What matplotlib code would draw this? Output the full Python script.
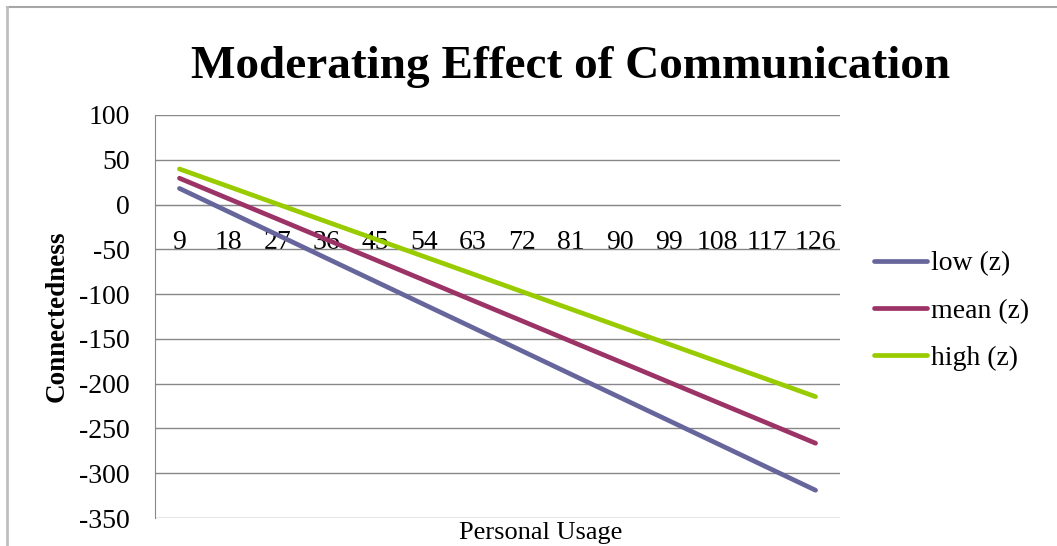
import matplotlib.pyplot as plt
from matplotlib.lines import Line2D

usage = [9, 18, 27, 36, 45, 54, 63, 72, 81, 90, 99, 108, 117, 126]
low = [18, -7.9, -33.8, -59.8, -85.7, -111.6, -137.5, -163.4, -189.4, -215.3, -241.2, -267.1, -293.1, -319]
mean = [29.4, 6.6, -16.1, -38.9, -61.6, -84.4, -107.2, -129.9, -152.7, -175.4, -198.2, -221.0, -243.7, -266.5]
high = [39.7, 20.2, 0.6, -19.0, -38.5, -58.1, -77.6, -97.2, -116.7, -136.3, -155.8, -175.4, -194.9, -214.5]
series = {"low (z)": low, "mean (z)": mean, "high (z)": high}
colors = ["#66669c", "#9c3366", "#99cc00"]
yticks = [100, 50, 0, -50, -100, -150, -200, -250, -300, -350]

serif = "Liberation Serif"
grid_c = "#888888"

fig = plt.figure(figsize=(10.57, 5.46), dpi=100)
ax = fig.add_axes([155/1057, 1-518/546, 685/1057, 403/546])

# category axis crosses at 0 (set before tick styling, it resets ticks)
for s in ["top", "right"]:
    ax.spines[s].set_visible(False)
ax.spines["left"].set_color(grid_c)
ax.spines["bottom"].set_position(("data", 0))
ax.spines["bottom"].set_color(grid_c)

x = list(range(len(usage)))
for (name, vals), c in zip(series.items(), colors):
    ax.plot(x, vals, color=c, lw=3.4, solid_capstyle="round", label=name, zorder=3)

ax.set_xlim(-0.5, len(usage) - 0.5)
ax.set_ylim(-350, 100)
ax.set_yticks(yticks)
ax.set_yticklabels([str(v) for v in yticks], fontsize=20, family=serif)
ax.set_xticks(x)
ax.set_xticklabels([str(u) for u in usage], fontsize=20, family=serif)
ax.tick_params(axis="y", length=0, pad=18)
ax.tick_params(axis="x", length=0, pad=18)
ax.yaxis.grid(True, color=grid_c, lw=1)
ax.set_axisbelow(True)

ax.set_ylabel("Connectedness", fontsize=19.5, family=serif, fontweight="bold", va="center")
ax.yaxis.set_label_coords(-0.143, 0.5)
ax.set_xlabel("Personal Usage", fontsize=19, family=serif, va="center")
ax.xaxis.set_label_coords(0.5635, -0.037)

fig.text(571/1057, 1-78/546, "Moderating Effect of Communication", fontsize=34,
         family=serif, fontweight="bold", ha="center", va="baseline")

fig.legend(loc="center left", bbox_to_anchor=(874/1057, 1-311/546), frameon=False,
           prop={"family": serif, "size": 20}, handlelength=1.9, handletextpad=0.15,
           labelspacing=0.78, borderpad=0, borderaxespad=0)

# chart border
fig.add_artist(Line2D([7/1057, 1], [1-7/546, 1-7/546], color="#a6a6a6", lw=1.5, transform=fig.transFigure))
fig.add_artist(Line2D([7/1057, 7/1057], [0, 1-7/546], color="#bfbfbf", lw=2, transform=fig.transFigure))

fig.savefig("out.png", dpi=100)
